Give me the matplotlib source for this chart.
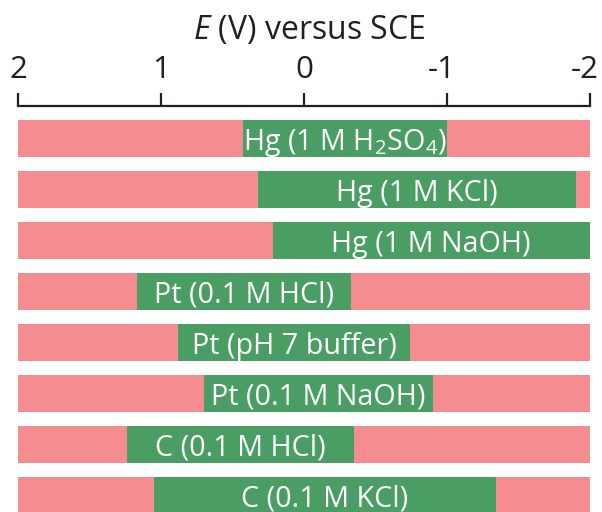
import numpy as np
import matplotlib
matplotlib.use("Agg")
import matplotlib.pyplot as plt
from matplotlib.transforms import ScaledTranslation

# Electrode / electrolyte combinations and their potential windows (V vs SCE)
electrodes = [
    "Hg (1 M H$_2$SO$_4$)",
    "Hg (1 M KCl)",
    "Hg (1 M NaOH)",
    "Pt (0.1 M HCl)",
    "Pt (pH 7 buffer)",
    "Pt (0.1 M NaOH)",
    "C (0.1 M HCl)",
    "C (0.1 M KCl)",
]
positive_limit = [0.43, 0.32, 0.22, 1.17, 0.88, 0.70, 1.24, 1.05]
negative_limit = [-1.00, -1.90, -2.00, -0.33, -0.74, -0.90, -0.35, -1.34]
scale_ticks = [2, 1, 0, -1, -2]
scale_labels = ["2", "1", "0", "-1", "-2"]
scale_range = (2, -2)

FONT = "Open Sans"
plt.rcParams["font.family"] = [FONT, "DejaVu Sans"]
plt.rcParams["mathtext.fontset"] = "custom"
plt.rcParams["mathtext.rm"] = FONT
plt.rcParams["mathtext.it"] = FONT + ":italic"
plt.rcParams["axes.unicode_minus"] = False

PINK = "#F48C90"
GREEN = "#4A9D63"
INK = "#231F20"

W, H = 602, 512
fig = plt.figure(figsize=(W / 100, H / 100), dpi=100)
ax = fig.add_axes([18 / W, 0, 572 / W, (H - 105.5) / H])

rows = np.arange(len(electrodes))
bar_h = 0.735

# full potential range as background
ax.barh(rows, scale_range[1] - scale_range[0], left=scale_range[0],
        height=bar_h, color=PINK, linewidth=0)
# usable window for each electrode
pos = np.array(positive_limit)
neg = np.array(negative_limit)
ax.barh(rows, neg - pos, left=pos, height=bar_h, color=GREEN, linewidth=0)

for r, name, a, b in zip(rows, electrodes, pos, neg):
    ax.text((a + b) / 2, r, name, ha="center", va="center_baseline",
            color="white", fontsize=20.7)

ax.set_xlim(*scale_range)
ax.set_ylim(7.319, -0.652)

for side in ("left", "right", "bottom"):
    ax.spines[side].set_visible(False)
ax.spines["top"].set_linewidth(1.6)
ax.spines["top"].set_color(INK)
ax.xaxis.tick_top()
ax.set_xticks(scale_ticks)
ax.set_xticklabels(scale_labels)
tick_size = 22.5
ax.tick_params(axis="x", direction="out", length=9.5, width=1.6, color=INK,
               labelsize=tick_size, pad=5, labelcolor=INK)
ax.set_yticks([])

# keep the digit centred on its tick, with the minus sign hanging to the left
half_digit = 0.572 * tick_size / 2 / 72
for lab in ax.get_xticklabels():
    lab.set_horizontalalignment("right")
    lab.set_transform(lab.get_transform()
                      + ScaledTranslation(half_digit, 0, fig.dpi_scale_trans))

fig.text(309 / W, 1 - 39 / H, "$E$ (V) versus SCE",
         ha="center", va="baseline", fontsize=23, color=INK)

fig.savefig("out.png", dpi=100)
